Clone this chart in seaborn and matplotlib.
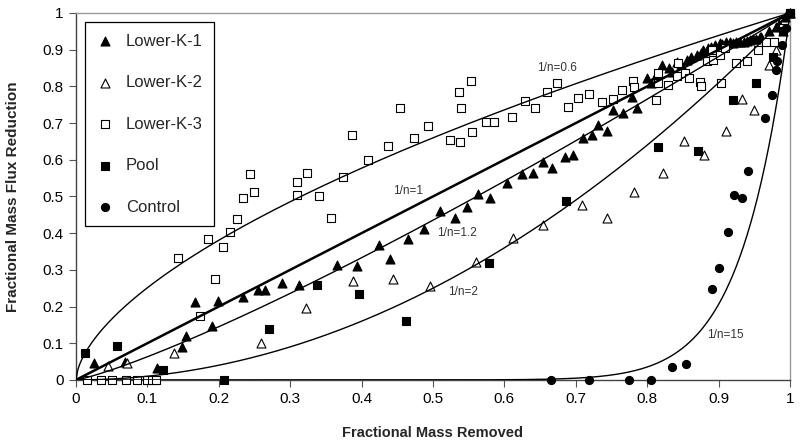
import matplotlib
matplotlib.use("Agg")
import matplotlib.pyplot as plt
import numpy as np
import seaborn as sns

# ---------------------------------------------------------------------------
# Data
# ---------------------------------------------------------------------------
k1_x = [0.025, 0.069, 0.113, 0.148, 0.154, 0.167, 0.191, 0.199, 0.234, 0.255,
        0.265, 0.288, 0.312, 0.366, 0.393, 0.424, 0.440, 0.465, 0.487, 0.510,
        0.531, 0.548, 0.563, 0.580, 0.604, 0.625, 0.640, 0.654, 0.667, 0.685,
        0.696, 0.710, 0.723, 0.731, 0.744, 0.752, 0.766, 0.779, 0.786, 0.800,
        0.805, 0.812, 0.821, 0.830, 0.835, 0.842, 0.848, 0.856, 0.862, 0.870,
        0.875, 0.878, 0.885, 0.890, 0.895, 0.902, 0.905, 0.910, 0.916, 0.920,
        0.925, 0.930, 0.935, 0.940, 0.944, 0.948, 0.953, 0.958, 0.960, 0.970,
        0.980, 0.985, 0.993, 1.000]
k1_y = [0.046, 0.050, 0.033, 0.090, 0.120, 0.213, 0.147, 0.215, 0.226, 0.245,
        0.245, 0.264, 0.259, 0.313, 0.310, 0.367, 0.329, 0.383, 0.411, 0.461,
        0.441, 0.471, 0.507, 0.496, 0.537, 0.561, 0.563, 0.594, 0.577, 0.608,
        0.613, 0.659, 0.667, 0.695, 0.679, 0.736, 0.727, 0.772, 0.741, 0.822,
        0.810, 0.830, 0.858, 0.850, 0.840, 0.867, 0.862, 0.872, 0.880, 0.886,
        0.890, 0.900, 0.905, 0.908, 0.912, 0.918, 0.915, 0.920, 0.921, 0.918,
        0.922, 0.920, 0.920, 0.925, 0.926, 0.930, 0.928, 0.935, 0.935, 0.950,
        0.962, 0.970, 0.990, 1.000]

k2_x = [0.045, 0.071, 0.137, 0.259, 0.322, 0.388, 0.444, 0.496, 0.560, 0.612,
        0.654, 0.709, 0.744, 0.781, 0.822, 0.851, 0.879, 0.910, 0.933, 0.950,
        0.970, 0.980, 0.990, 1.000]
k2_y = [0.038, 0.046, 0.074, 0.100, 0.196, 0.270, 0.275, 0.256, 0.322, 0.387,
        0.422, 0.477, 0.441, 0.513, 0.563, 0.650, 0.613, 0.679, 0.766, 0.736,
        0.858, 0.900, 0.950, 1.000]

k3_x = [0.015, 0.035, 0.050, 0.070, 0.085, 0.100, 0.106, 0.112, 0.143, 0.173,
        0.185, 0.195, 0.206, 0.216, 0.226, 0.234, 0.244, 0.249, 0.310, 0.310,
        0.324, 0.341, 0.357, 0.374, 0.386, 0.409, 0.437, 0.454, 0.473, 0.493,
        0.524, 0.538, 0.537, 0.539, 0.553, 0.554, 0.574, 0.585, 0.611, 0.629,
        0.643, 0.660, 0.674, 0.689, 0.703, 0.718, 0.737, 0.752, 0.765, 0.780,
        0.781, 0.813, 0.815, 0.815, 0.829, 0.842, 0.843, 0.853, 0.859, 0.874,
        0.875, 0.884, 0.891, 0.892, 0.902, 0.909, 0.904, 0.924, 0.940, 0.955,
        0.967, 0.977, 0.990, 1.000]
k3_y = [0.000, 0.000, 0.000, 0.000, 0.000, 0.000, 0.000, 0.000, 0.333, 0.175,
        0.384, 0.275, 0.362, 0.403, 0.439, 0.496, 0.561, 0.513, 0.504, 0.540,
        0.563, 0.500, 0.441, 0.554, 0.668, 0.600, 0.638, 0.741, 0.660, 0.693,
        0.654, 0.649, 0.784, 0.741, 0.815, 0.677, 0.704, 0.702, 0.716, 0.761,
        0.741, 0.785, 0.809, 0.743, 0.768, 0.779, 0.758, 0.766, 0.789, 0.815,
        0.798, 0.764, 0.809, 0.836, 0.804, 0.828, 0.863, 0.837, 0.822, 0.812,
        0.802, 0.870, 0.900, 0.872, 0.886, 0.905, 0.810, 0.865, 0.869, 0.900,
        0.921, 0.921, 0.960, 1.000]

pool_x = [0.013, 0.057, 0.122, 0.207, 0.270, 0.337, 0.396, 0.462, 0.578, 0.686,
          0.815, 0.871, 0.920, 0.952, 0.976, 0.990, 1.000]
pool_y = [0.074, 0.093, 0.027, 0.000, 0.140, 0.259, 0.234, 0.161, 0.319, 0.488,
          0.636, 0.624, 0.762, 0.809, 0.881, 0.950, 1.000]

ctrl_x = [0.665, 0.718, 0.775, 0.805, 0.835, 0.854, 0.891, 0.900, 0.913, 0.922,
          0.933, 0.941, 0.965, 0.975, 0.980, 0.982, 0.989, 0.995, 1.000]
ctrl_y = [0.000, 0.000, 0.000, 0.000, 0.035, 0.043, 0.247, 0.305, 0.403, 0.504,
          0.497, 0.569, 0.713, 0.777, 0.845, 0.870, 0.913, 0.960, 1.000]

# model curves y = x ** (1/n)
curve_exps = [0.6, 1, 1.2, 2, 15]
curve_labels = ["1/n=0.6", "1/n=1", "1/n=1.2", "1/n=2", "1/n=15"]
curve_label_x = [0.646, 0.444, 0.506, 0.521, 0.884]
curve_label_y = [0.850, 0.515, 0.400, 0.240, 0.123]

ticks = [0, 0.1, 0.2, 0.3, 0.4, 0.5, 0.6, 0.7, 0.8, 0.9, 1]
tick_labels = ["0", "0.1", "0.2", "0.3", "0.4", "0.5", "0.6", "0.7", "0.8", "0.9", "1"]

# ---------------------------------------------------------------------------
sns.set_theme(style="ticks")
plt.rcParams["font.family"] = ["Liberation Sans", "DejaVu Sans"]

fig = plt.figure(figsize=(8, 4.48), dpi=100)
ax = fig.add_axes([0.095, 0.152, 0.8925, 0.819])

series = [
    (k1_x, k1_y, "Lower-K-1", "^", "black", 42),
    (k2_x, k2_y, "Lower-K-2", "^", "white", 42),
    (k3_x, k3_y, "Lower-K-3", "s", "white", 38),
    (pool_x, pool_y, "Pool", "s", "black", 36),
    (ctrl_x, ctrl_y, "Control", "o", "black", 34),
]
for i, (xs, ys, label, marker, face, size) in enumerate(series):
    sns.scatterplot(x=xs, y=ys, marker=marker, color=face, edgecolor="black",
                    linewidth=0.8, s=size, label=label, ax=ax, zorder=3 + i,
                    clip_on=False)

grid = np.linspace(0, 1, 400)
for e in curve_exps:
    lw = 1.8 if e == 1 else 1.0
    sns.lineplot(x=grid, y=grid ** e, color="black", lw=lw, ax=ax, zorder=10,
                 legend=False)

for txt, tx, ty in zip(curve_labels, curve_label_x, curve_label_y):
    ax.text(tx, ty, txt, fontsize=8.5, color="#333333", ha="left", va="center",
            zorder=11)

ax.set_xlim(0, 1)
ax.set_ylim(0, 1)
ax.set_xticks(ticks)
ax.set_xticklabels(tick_labels)
ax.set_yticks(ticks)
ax.set_yticklabels(tick_labels)
ax.tick_params(direction="out", length=5, width=0.8, color="#555555",
               labelsize=11, pad=4, labelcolor="black")

for side in ["left", "bottom"]:
    ax.spines[side].set_color("#444444")
    ax.spines[side].set_linewidth(1.0)
for side in ["top", "right"]:
    ax.spines[side].set_visible(True)
    ax.spines[side].set_color("#999999")
    ax.spines[side].set_linewidth(1.0)

ax.set_xlabel("Fractional Mass Removed", fontsize=10.5, fontweight="bold",
              labelpad=14)
ax.set_ylabel("Fractional Mass Flux Reduction", fontsize=11, fontweight="bold",
              labelpad=16)

leg = ax.legend(loc="upper left", bbox_to_anchor=(0.0126, 0.975), fontsize=12,
                frameon=True, fancybox=False, framealpha=1, edgecolor="black",
                labelspacing=1.59, handlelength=1.0, handletextpad=0.75,
                borderpad=0.7, borderaxespad=0)
leg.get_frame().set_linewidth(0.9)
leg.set_zorder(20)

fig.savefig("out.png", dpi=100)
